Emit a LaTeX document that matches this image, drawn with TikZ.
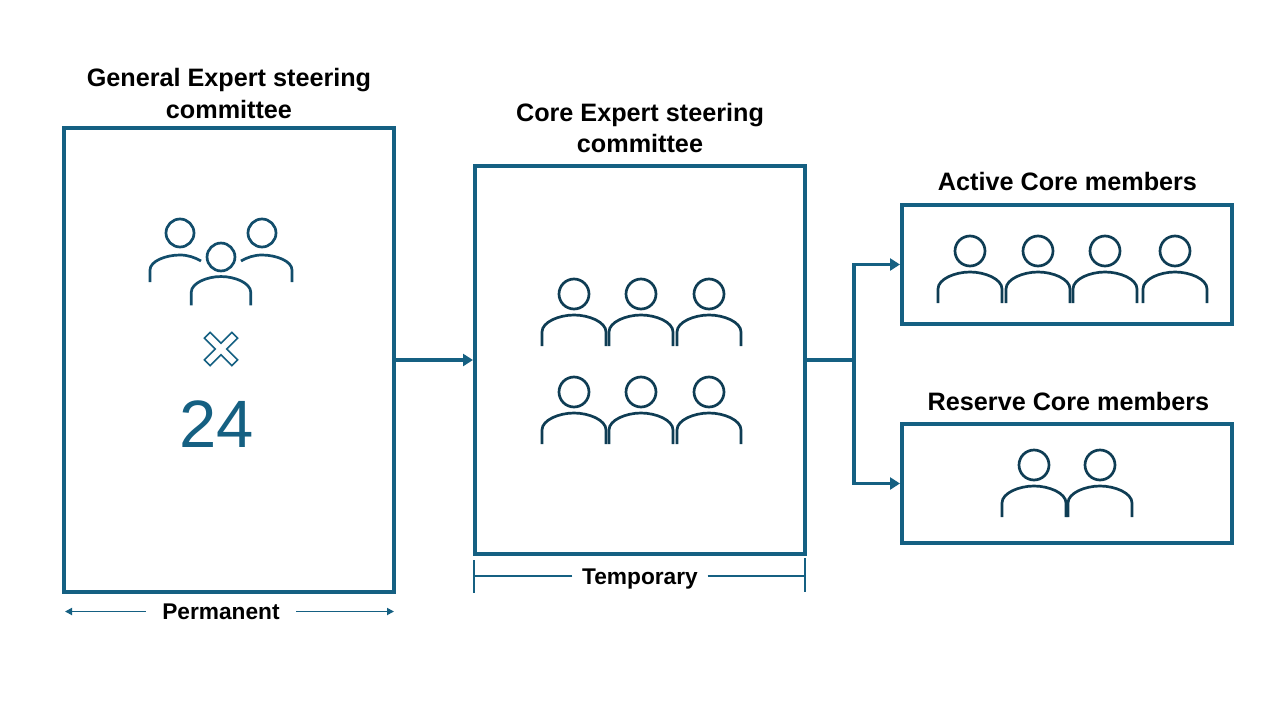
\documentclass[tikz,border=0pt]{standalone}
\usepackage{fontspec}
\setmainfont{Liberation Sans}
\usetikzlibrary{arrows.meta,positioning}
\definecolor{boxblue}{HTML}{156082}
\definecolor{iconblue}{HTML}{124D6B}
\definecolor{icondark}{HTML}{0F3D54}
\begin{document}
\begin{tikzpicture}
	[x=1pt, y=-1pt, inner sep=0pt,
	panel/.style	= {draw=boxblue, line width=4pt, rectangle, minimum width=330pt},
	heading/.style	= {font=\fontsize{25.2}{31.5}\selectfont\bfseries, align=center, text=black},
	span/.style		= {font=\fontsize{22.7}{24}\selectfont\bfseries, text=black, text height=20pt, text depth=4pt},
	link/.style		= {draw=boxblue, line width=3.8pt, -{Triangle[length=10pt, width=12pt]}},
	thin/.style		= {draw=boxblue, line width=1.9pt},
	person/.pic		= {
		\draw (0,0) circle [radius=15];
		\draw (-32,52) -- (-32,38) .. controls (-32,28) and (-15,21) .. (0,21)
			.. controls (15,21) and (32,28) .. (32,38) -- (32,52);},
	sideperson/.pic	= {
		\draw (0,0) circle [radius=14];
		\draw (-30,49) -- (-30,37) .. controls (-30,28) and (-14,22) .. (0,22)
			.. controls (8,22) and (15,24.5) .. (21,28);}]

	\useasboundingbox (0,0) rectangle (1280,720);

	\node [panel, minimum height=464pt]	at (229,360)			(general)	{};
	\node [panel, minimum height=388pt]	at (640,360)			(core)		{};
	\node [panel, minimum height=119pt]	at (1067,264.5)			(active)	{};
	\node [panel, minimum height=119pt]	at (1067,483.5)			(reserve)	{};

	\node [heading]	at (229,93.5)								(generalhead)	{General Expert steering\\committee};
	\node [heading]	at (640,128)								(corehead)		{Core Expert steering\\committee};
	\node [heading]	at (1067.5,181)								(activehead)	{Active Core members};
	\node [heading]	at (1068.5,401)								(reservehead)	{Reserve Core members};

	% connectors
	\draw [link] (general) -- (core);
	\coordinate (split) at (854,360);
	\draw [link] (core) -- (split) |- (active);
	\draw [link] (split) |- (reserve);

	% icons, left box
	\begin{scope}[draw=iconblue, line width=2.7pt]
		\pic at (180,233) {sideperson};
		\pic [xscale=-1] at (262,233) {sideperson};
		\pic [scale=.93] at (221,257) {person};
	\end{scope}
	\draw [boxblue, line width=1.6pt, rotate around={45:(221,349)}]
		(201.5,345) -- (217,345) -- (217,329.5) -- (225,329.5) -- (225,345) -- (240.5,345)
		-- (240.5,353) -- (225,353) -- (225,368.5) -- (217,368.5) -- (217,353) -- (201.5,353) -- cycle;
	\node [text=boxblue, font=\fontsize{67}{67}\selectfont] at (216.5,424) (count) {24};

	% icons, other boxes
	\begin{scope}[draw=icondark, line width=2.7pt]
		\foreach \px in {574,641,709}{
			\pic at (\px,294) {person};
			\pic at (\px,392) {person};
		}
		\foreach \px in {970,1038,1105,1175}
			\pic at (\px,251) {person};
		\foreach \px in {1034,1100}
			\pic at (\px,465) {person};
	\end{scope}

	% spans under the boxes
	\node [span, inner xsep=16.5pt] at (221,611.5)	(permanent)	{Permanent};
	\coordinate (permleft)	at (65,611.5);
	\coordinate (permright)	at (394,611.5);
	\draw [thin, -{Triangle[length=7pt, width=7pt]}] (permanent) -- (permleft);
	\draw [thin, -{Triangle[length=7pt, width=7pt]}] (permanent) -- (permright);

	\node [span, inner xsep=9.5pt] at (640,576)		(temporary)	{Temporary};
	\coordinate (templeft)	at (474,576);
	\coordinate (tempright)	at (805,576);
	\draw [thin] (temporary) -- (templeft);
	\draw [thin] (temporary) -- (tempright);
	\draw [thin] (474,560) -- (templeft) -- (474,593);
	\draw [thin] (805,558) -- (tempright) -- (805,592);
\end{tikzpicture}
\end{document}
